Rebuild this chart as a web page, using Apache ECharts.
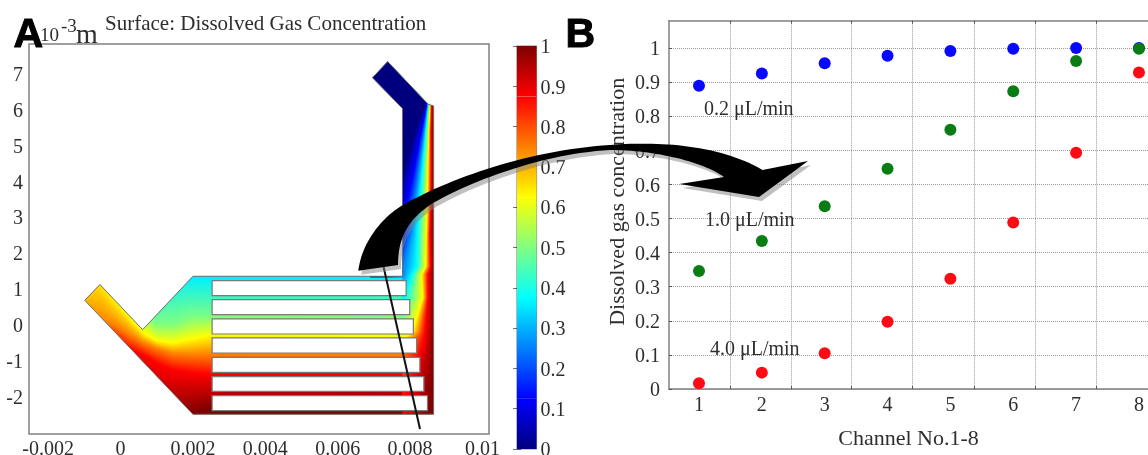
<!DOCTYPE html>
<html><head><meta charset="utf-8">
<style>html,body{margin:0;padding:0;background:#fff}#c{width:1148px;height:455px}</style>
<script src="https://cdn.jsdelivr.net/npm/echarts@6/dist/echarts.min.js"></script>
</head><body><div id="c"></div>
<script>
// ---- panel B data ----
const channels = [1,2,3,4,5,6,7,8];
const flow02 = [0.889,0.925,0.955,0.977,0.991,0.998,1.0,1.0];
const flow10 = [0.346,0.434,0.536,0.646,0.760,0.873,0.962,0.998];
const flow40 = [0.017,0.048,0.105,0.197,0.323,0.488,0.693,0.928];
const gridChannels = [1.49,2.46,3.43,4.40,5.38,6.35,7.32];
const concTicks = [0,0.1,0.2,0.3,0.4,0.5,0.6,0.7,0.8,0.9,1];

// ---- panel A ticks (x in m, y in 10^-3 m) ----
const xTicks = [-0.002,0,0.002,0.004,0.006,0.008,0.01];
const yTicks = [-2,-1,0,1,2,3,4,5,6,7];
const colorbarLevels = [0,0.125,0.375,0.625,0.875,1];

// ---- panel A geometry, x and y in mm ----
const domainX = [-0.57,-0.99,2.0,8.65,8.65,8.50,7.38,6.96,7.79,7.79,2.0,0.61];
const domainY = [1.12,0.68,-2.5,-2.5,6.10,6.15,7.34,6.89,6.03,1.35,1.35,-0.14];
const channelLeft = 2.53;
const channelRight = [7.89,7.99,8.09,8.18,8.27,8.38,8.48];
const channelTop = [1.23,0.70,0.16,-0.37,-0.91,-1.45,-1.98];
const channelBottom = [0.81,0.28,-0.26,-0.79,-1.33,-1.86,-2.40];

// ---- panel A field, read as contours ----
// left part: y (mm) of each level, one row per x (mm)
const leftLevels = [0.36,0.5,0.625,0.75,0.875,1];
const leftX = [-0.99,-0.57,-0.20,0.26,0.62,0.99,1.44,2.0,2.51,7.80];
const leftContours = [
  [2.8,2.3,1.6,0.05,-0.5,-2.6],
  [2.8,2.3,1.397,0.092,-0.56,-2.6],
  [2.8,2.0,0.79,0,-0.363,-2.6],
  [2.5,1.5,0.196,-0.279,-0.698,-2.6],
  [1.6,0.35,-0.223,-0.503,-0.838,-2.318],
  [1.2,0,-0.447,-0.651,-1.061,-2.598],
  [1.4,0,-0.503,-0.81,-1.257,-2.57],
  [1.313,0.196,-0.391,-0.838,-1.341,-2.458],
  [1.285,0.196,-0.28,-0.838,-1.397,-2.318],
  [1.285,0.223,-0.307,-0.838,-1.397,-2.235]
];
// right part: x (mm) of each level, one row per y (mm)
const rightLevels = [0,0.125,0.25,0.375,0.625,0.875,1];
const rightY = [7.5,6.117,5.363,4.413,3.492,2.570,1.620,1.397,0.754,-0.196,-0.559,-1.257,-2.514];
const rightContours = [
  [8.41,8.46,8.48,8.50,8.55,8.59,8.65],
  [8.41,8.46,8.48,8.50,8.55,8.59,8.65],
  [8.13,8.31,8.38,8.43,8.52,8.57,8.65],
  [7.85,8.13,8.25,8.35,8.49,8.58,8.65],
  [7.58,7.94,8.13,8.27,8.48,8.57,8.65],
  [7.30,7.77,8.02,8.21,8.45,8.54,8.65],
  [7.02,7.60,7.80,8.18,8.43,8.56,8.65],
  [6.89,7.44,7.80,8.05,8.32,8.49,8.65],
  [6.33,6.89,7.44,7.85,8.35,8.49,8.65],
  [5.51,6.06,6.61,7.16,8.07,8.41,8.65],
  [4.95,5.51,6.06,6.61,7.58,8.35,8.65],
  [4.40,4.95,5.51,6.06,6.89,8.13,8.65],
  [3.29,3.85,4.40,4.95,6.33,7.72,8.50]
];

const SERIF = '"Liberation Serif","Times New Roman",serif';
const TXT = '#2e2e2e', FRAME = '#808080';

const jetKnots = [[0,[0,0,127]],[0.125,[0,0,255]],[0.375,[0,255,255]],[0.625,[255,255,0]],[0.875,[255,0,0]],[1,[127,0,0]]];
function jet(v){
  for(let i=1;i<jetKnots.length;i++){
    if(v<=jetKnots[i][0]){
      const a=jetKnots[i-1],b=jetKnots[i],t=(v-a[0])/(b[0]-a[0]);
      return 'rgb('+a[1].map((c,k)=>Math.round(c+(b[1][k]-c)*t)).join(',')+')';
    }
  }
  return 'rgb(127,0,0)';
}
function gradient(horizontal,pos,levels){
  const a=pos[0],b=pos[pos.length-1];
  return {type:'linear',global:true,
    x:horizontal?a:0,y:horizontal?0:a,x2:horizontal?b:0,y2:horizontal?0:b,
    colorStops:levels.map((v,i)=>({offset:Math.min(1,Math.max(0,(pos[i]-a)/((b-a)||1))),color:jet(v)}))};
}
function clipOf(api){
  return {type:'polygon',shape:{points:domainX.map((x,i)=>api.coord([x/1000,domainY[i]]))}};
}
const lerp=(a,b,t)=>a+(b-a)*t;

function renderLeft(params,api){
  const i=params.dataIndex;
  if(i>=leftX.length-1) return {type:'group',children:[]};
  const cs=params.coordSys;
  const x0=api.coord([leftX[i]/1000,0])[0], x1=api.coord([leftX[i+1]/1000,0])[0];
  const p0=leftContours[i].map(y=>api.coord([0,y])[1]), p1=leftContours[i+1].map(y=>api.coord([0,y])[1]);
  const children=[];
  for(let x=Math.floor(x0);x<x1;x++){
    const t=Math.min(1,Math.max(0,(x+0.5-x0)/(x1-x0)));
    children.push({type:'rect',shape:{x:x,y:cs.y,width:1.6,height:cs.height},
      style:{fill:gradient(false,p0.map((p,k)=>lerp(p,p1[k],t)),leftLevels)}});
  }
  return {type:'group',children,clipPath:clipOf(api)};
}
function renderRight(params,api){
  const i=params.dataIndex;
  if(i>=rightY.length-1) return {type:'group',children:[]};
  const y0=api.coord([0,rightY[i]])[1], y1=api.coord([0,rightY[i+1]])[1];
  const p0=rightContours[i].map(x=>api.coord([x/1000,0])[0]), p1=rightContours[i+1].map(x=>api.coord([x/1000,0])[0]);
  const xOutlet=api.coord([0.0069,0])[0], xChannel=api.coord([0.00779,0])[0], xEnd=api.coord([0.00866,0])[0];
  const yJoin=api.coord([0,1.35])[1];
  const children=[];
  for(let y=Math.floor(y0);y<y1;y++){
    const t=Math.min(1,Math.max(0,(y+0.5-y0)/(y1-y0)));
    const xs=y<yJoin?xOutlet:xChannel;
    children.push({type:'rect',shape:{x:xs,y:y,width:xEnd-xs,height:1.6},
      style:{fill:gradient(true,p0.map((p,k)=>lerp(p,p1[k],t)),rightLevels)}});
  }
  return {type:'group',children,clipPath:clipOf(api)};
}
function renderOutline(params,api){
  const pts=domainX.map((x,i)=>api.coord([x/1000,domainY[i]]));
  return {type:'polygon',shape:{points:pts},style:{fill:'none',stroke:'#6e6e6e',lineWidth:1}};
}
function renderChannel(params,api){
  const i=params.dataIndex;
  const a=api.coord([channelLeft/1000,channelTop[i]]), b=api.coord([channelRight[i]/1000,channelBottom[i]]);
  return {type:'rect',shape:{x:a[0],y:a[1],width:b[0]-a[0],height:b[1]-a[1]},
    style:{fill:'#fff',stroke:'#7a7a7a',lineWidth:1.2}};
}
function renderBar(params,api){
  const i=params.dataIndex;
  if(i>=colorbarLevels.length-1) return {type:'group',children:[]};
  const cs=params.coordSys;
  const y0=api.coord([0,colorbarLevels[i]])[1], y1=api.coord([0,colorbarLevels[i+1]])[1];
  return {type:'rect',shape:{x:cs.x,y:y1,width:cs.width,height:y0-y1},
    style:{fill:gradient(false,[y0,y1],[colorbarLevels[i],colorbarLevels[i+1]])}};
}

// the decorative arrow joining the two panels, as an outline of curve segments
function bez(p0,c1,c2,p1){
  const out=[];
  for(let k=1;k<=30;k++){
    const t=k/30,u=1-t;
    out.push([u*u*u*p0[0]+3*u*u*t*c1[0]+3*u*t*t*c2[0]+t*t*t*p1[0],
              u*u*u*p0[1]+3*u*u*t*c1[1]+3*u*t*t*c2[1]+t*t*t*p1[1]]);
  }
  return out;
}
const arrowPoints=[[358.3,270.7]].concat(
  bez([358.3,270.7],[362,240],[385,215],[403,205]),
  bez([403,205],[450,178],[530,150],[610,145]),
  bez([610,145],[660,141],[720,145],[762.5,170]),
  [[808,161],[759,197],[679.4,184],[724,177]],
  bez([724,177],[700,160],[650,150],[610,150]),
  bez([610,150],[540,154],[470,182],[433,203]),
  bez([433,203],[410,218],[398,235],[398,265])
);

function label(text,left,top,size){
  return {type:'text',left,top,z:60,silent:true,style:{text,fill:TXT,font:size+'px '+SERIF}};
}
const tickText={fontFamily:SERIF,fontSize:20,color:TXT};
const yLabel=(margin)=>Object.assign({margin,verticalAlign:'top',padding:[-8,0,0,0]},tickText);

const option={
  animation:false,
  backgroundColor:'#fff',
  title:{text:'Surface: Dissolved Gas Concentration',left:105,top:14,padding:0,
    textStyle:{fontFamily:SERIF,fontSize:21,fontWeight:'normal',color:TXT}},
  grid:[
    {left:29,top:44,width:460,height:390,show:true,borderColor:FRAME,borderWidth:1.5,backgroundColor:'#fff',outerBoundsMode:'none'},
    {left:517,top:46,width:19.5,height:403,show:true,borderColor:'#8a8a8a',borderWidth:1.2,outerBoundsMode:'none'},
    {left:669,top:20.7,width:479,height:368.3,outerBoundsMode:'none'}
  ],
  xAxis:[
    {gridIndex:0,type:'value',min:-0.00253,max:0.01018,axisLine:{show:false},axisTick:{show:false},splitLine:{show:false},
     axisLabel:Object.assign({customValues:xTicks,margin:6,formatter:v=>String(v),hideOverlap:false},tickText)},
    {gridIndex:1,type:'value',min:0,max:1,show:false},
    {gridIndex:2,type:'value',min:0.5227,max:8.144,
     axisLine:{show:true,onZero:false,lineStyle:{color:FRAME,width:1.5}},
     axisTick:{show:true,inside:true,length:3,customValues:gridChannels,lineStyle:{color:'#555'}},
     splitLine:{show:true,lineStyle:{color:'#9a9a9a',type:'dotted',width:1}},
     axisLabel:Object.assign({customValues:channels,margin:7},tickText),
     name:'Channel No.1-8',nameLocation:'middle',nameGap:39,
     nameTextStyle:{fontFamily:SERIF,fontSize:22,color:TXT}},
    {gridIndex:2,type:'value',position:'top',min:0.5227,max:8.144,
     axisLine:{show:true,onZero:false,lineStyle:{color:FRAME,width:1.5}},
     axisTick:{show:true,inside:true,length:3,customValues:gridChannels,lineStyle:{color:'#555'}},
     splitLine:{show:false},axisLabel:{show:false}}
  ],
  yAxis:[
    {gridIndex:0,type:'value',min:-3.05,max:7.83,axisLine:{show:false},axisTick:{show:false},splitLine:{show:false},
     axisLabel:Object.assign(yLabel(6),{customValues:yTicks})},
    {gridIndex:1,type:'value',min:0,max:1,interval:0.1,position:'right',
     axisLine:{show:false},splitLine:{show:false},
     axisTick:{show:true,inside:true,length:4,lineStyle:{color:'rgba(0,0,0,.55)'}},
     axisLabel:yLabel(4)},
    {gridIndex:1,type:'value',min:0,max:1,interval:0.1,position:'left',
     axisLine:{show:false},splitLine:{show:false},
     axisTick:{show:true,inside:true,length:4,lineStyle:{color:'rgba(0,0,0,.55)'}},
     axisLabel:{show:false}},
    {gridIndex:2,type:'value',min:0,max:1.08,
     axisLine:{show:true,lineStyle:{color:FRAME,width:1.5}},
     axisTick:{show:true,inside:true,length:3,customValues:concTicks,lineStyle:{color:'#555'}},
     splitLine:{show:true,lineStyle:{color:'#9a9a9a',type:'dotted',width:1}},
     axisLabel:Object.assign(yLabel(9),{customValues:concTicks}),
     name:'Dissolved gas concentration',nameLocation:'middle',nameGap:40,
     nameTextStyle:{fontFamily:SERIF,fontSize:22,color:TXT,padding:[0,0,0,6]}}
  ],
  series:[
    {type:'custom',name:'Surface left',xAxisIndex:0,yAxisIndex:0,silent:true,clip:false,data:leftX,renderItem:renderLeft,z:2},
    {type:'custom',name:'Surface right',xAxisIndex:0,yAxisIndex:0,silent:true,clip:false,data:rightY,renderItem:renderRight,z:3},
    {type:'custom',name:'Outline',xAxisIndex:0,yAxisIndex:0,silent:true,clip:false,data:[0],renderItem:renderOutline,z:4},
    {type:'custom',name:'Channels',xAxisIndex:0,yAxisIndex:0,silent:true,clip:false,data:channelTop,renderItem:renderChannel,z:5},
    {type:'custom',name:'Colorbar',xAxisIndex:1,yAxisIndex:1,silent:true,clip:false,data:colorbarLevels,renderItem:renderBar,z:2},
    {type:'scatter',name:'0.2 μL/min',xAxisIndex:2,yAxisIndex:3,symbolSize:12,itemStyle:{color:'#0808ff',opacity:1},z:6,clip:false,
     data:channels.map((c,i)=>[c,flow02[i]])},
    {type:'scatter',name:'1.0 μL/min',xAxisIndex:2,yAxisIndex:3,symbolSize:12,itemStyle:{color:'#0a7c14',opacity:1},z:7,clip:false,
     data:channels.map((c,i)=>[c,flow10[i]])},
    {type:'scatter',name:'4.0 μL/min',xAxisIndex:2,yAxisIndex:3,symbolSize:12,itemStyle:{color:'#ff0a14',opacity:1},z:8,clip:false,
     data:channels.map((c,i)=>[c,flow40[i]])}
  ],
  graphic:[
    {type:'line',z:50,silent:true,shape:{x1:383.6,y1:267,x2:420,y2:429},style:{stroke:'#111',lineWidth:2}},
    {type:'polygon',z:51,silent:true,x:3,y:4,shape:{points:arrowPoints},style:{fill:'rgba(130,130,130,.5)'}},
    {type:'polygon',z:52,silent:true,shape:{points:arrowPoints},style:{fill:'#000'}},
    label('0.2 μL/min',704,100,20),
    label('1.0 μL/min',705,211,20),
    label('4.0 μL/min',710,340,20),
    label('10',40,27,19),
    label('-3',61,18,19),
    label('m',76,22,28),
    {type:'text',left:13,top:15,z:70,silent:true,style:{text:'A',fill:'#000',font:'bold 41px "Liberation Sans",Arial,sans-serif',stroke:'#000',lineWidth:1}},
    {type:'text',left:565,top:15,z:70,silent:true,style:{text:'B',fill:'#000',font:'bold 41px "Liberation Sans",Arial,sans-serif',stroke:'#000',lineWidth:1}}
  ]
};
const chart=echarts.init(document.getElementById('c'),null,{renderer:'canvas',width:1148,height:455});
chart.setOption(option);
</script></body></html>
